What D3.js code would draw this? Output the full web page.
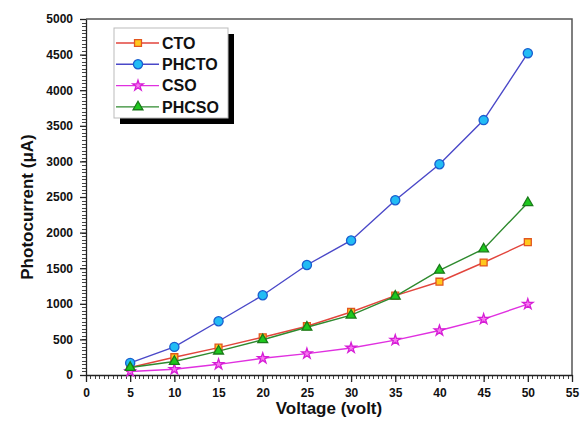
<!DOCTYPE html>
<html>
<head>
<meta charset="utf-8">
<script src="https://cdn.jsdelivr.net/npm/d3@7"></script>
<style>
  body { margin: 0; background: #fff; }
  text { font-family: "Liberation Sans", Arial, sans-serif; font-weight: bold; }
</style>
</head>
<body>
<div id="svg"></div>
<script>
let w = 583;
let h = 432;

// data
let voltage = [5, 10, 15, 20, 25, 30, 35, 40, 45, 50];
let cto    = [105, 250, 385, 530, 685, 885, 1115, 1310, 1580, 1865];
let phcto  = [170, 395, 755, 1120, 1545, 1890, 2455, 2960, 3580, 4520];
let cso    = [50, 80, 150, 235, 300, 380, 490, 625, 785, 995];
let phcso  = [105, 190, 335, 495, 670, 840, 1105, 1470, 1770, 2420];
let seriesNames = ['CTO', 'PHCTO', 'CSO', 'PHCSO'];
let xTicks = [0, 5, 10, 15, 20, 25, 30, 35, 40, 45, 50, 55];
let yTicks = [0, 500, 1000, 1500, 2000, 2500, 3000, 3500, 4000, 4500, 5000];

let series = [
  {name: seriesNames[0], values: cto,   line: '#e2453c', fill: '#ffc81e', stroke: '#e2561e', shape: d3.symbolSquare,   size: 48},
  {name: seriesNames[1], values: phcto, line: '#4a48c8', fill: '#22bcf4', stroke: '#1a5fd0', shape: d3.symbolCircle,   size: 66},
  {name: seriesNames[2], values: cso,   line: '#e030e0', fill: '#f878f0', stroke: '#d61ed6', shape: d3.symbolStar,     size: 34},
  {name: seriesNames[3], values: phcso, line: '#2e8a2e', fill: '#1ec81e', stroke: '#1a7a1a', shape: d3.symbolTriangle, size: 42}
];

let pLeft = 86, pRight = 572, pTop = 19, pBottom = 375;

let svg = d3.select('#svg')
  .append('svg')
  .attr('width', w)
  .attr('height', h);

let xScale = d3.scaleLinear().domain([0, 55]).range([pLeft, pRight]);
let yScale = d3.scaleLinear().domain([0, 5000]).range([pBottom, pTop]);

// frame top / right
svg.append('path')
  .attr('d', 'M' + pLeft + ',' + pTop + 'H' + pRight + 'V' + pBottom)
  .attr('fill', 'none')
  .attr('stroke', '#555')
  .attr('stroke-width', 1.5);

// minor ticks (ruler look)
let xMinor = d3.range(0, 55.01, 0.5);
let yMinor = d3.range(0, 5000.1, 50);
svg.append('g')
  .selectAll('line')
  .data(xMinor)
  .enter()
  .append('line')
  .attr('x1', d => Math.round(xScale(d)) + 0.5)
  .attr('x2', d => Math.round(xScale(d)) + 0.5)
  .attr('y1', pBottom)
  .attr('y2', pBottom + 4)
  .attr('stroke', '#444')
  .attr('stroke-width', 1);
svg.append('g')
  .selectAll('line')
  .data(yMinor)
  .enter()
  .append('line')
  .attr('y1', d => Math.round(yScale(d)) + 0.5)
  .attr('y2', d => Math.round(yScale(d)) + 0.5)
  .attr('x1', pLeft - 4)
  .attr('x2', pLeft)
  .attr('stroke', '#444')
  .attr('stroke-width', 1);

// major axes
let xAxis = svg.append('g')
  .attr('transform', 'translate(0,' + pBottom + ')')
  .call(d3.axisBottom(xScale).tickValues(xTicks).tickFormat(d3.format('d'))
    .tickSize(7).tickSizeOuter(0).tickPadding(6));
let yAxis = svg.append('g')
  .attr('transform', 'translate(' + pLeft + ',0)')
  .call(d3.axisLeft(yScale).tickValues(yTicks).tickFormat(d3.format('d'))
    .tickSize(6).tickSizeOuter(0).tickPadding(7));
[xAxis, yAxis].forEach(a => {
  a.selectAll('text').style('font-size', '12px').attr('fill', '#111');
  a.selectAll('line, path').attr('stroke', '#222').attr('stroke-width', 1.3);
});

// lines and markers
let line = d3.line()
  .x((d, i) => xScale(voltage[i]))
  .y(d => yScale(d));

series.forEach(s => {
  svg.append('path')
    .datum(s.values)
    .attr('d', line)
    .attr('fill', 'none')
    .attr('stroke', s.line)
    .attr('stroke-width', 1.4);
  svg.selectAll(null)
    .data(s.values)
    .enter()
    .append('path')
    .attr('d', d3.symbol().type(s.shape).size(s.size))
    .attr('transform', (d, i) => 'translate(' + xScale(voltage[i]) + ',' + yScale(d) + ')')
    .attr('fill', s.fill)
    .attr('stroke', s.stroke)
    .attr('stroke-width', 1.3);
});

// legend
let lx = 114, ly = 28, lw = 114, lh = 90;
svg.append('rect')
  .attr('x', lx + 6).attr('y', ly + 6)
  .attr('width', lw).attr('height', lh)
  .attr('fill', '#000');
svg.append('rect')
  .attr('x', lx).attr('y', ly)
  .attr('width', lw).attr('height', lh)
  .attr('fill', '#fff')
  .attr('stroke', '#bbb');

let leg = svg.selectAll('.leg')
  .data(series)
  .enter()
  .append('g')
  .attr('class', 'leg')
  .attr('transform', (d, i) => 'translate(' + (lx + 2) + ',' + (ly + 15 + i * 21.3) + ')');
leg.append('line')
  .attr('x1', 0).attr('x2', 43)
  .attr('stroke', d => d.line)
  .attr('stroke-width', 1.4);
leg.append('path')
  .attr('d', d => d3.symbol().type(d.shape).size(d.size)())
  .attr('transform', 'translate(22,0)')
  .attr('fill', d => d.fill)
  .attr('stroke', d => d.stroke)
  .attr('stroke-width', 1.3);
leg.append('text')
  .text(d => d.name)
  .attr('x', 46)
  .attr('dy', '0.36em')
  .style('font-size', '16px')
  .attr('fill', '#111');

// axis labels
svg.append('text')
  .text('Voltage (volt)')
  .attr('x', 329)
  .attr('y', 414)
  .attr('text-anchor', 'middle')
  .style('font-size', '17px')
  .attr('fill', '#111');

svg.append('text')
  .text('Photocurrent (\u03bcA)')
  .attr('transform', 'translate(33,207) rotate(-90)')
  .attr('text-anchor', 'middle')
  .style('font-size', '17px')
  .attr('fill', '#111');
</script>
</body>
</html>
